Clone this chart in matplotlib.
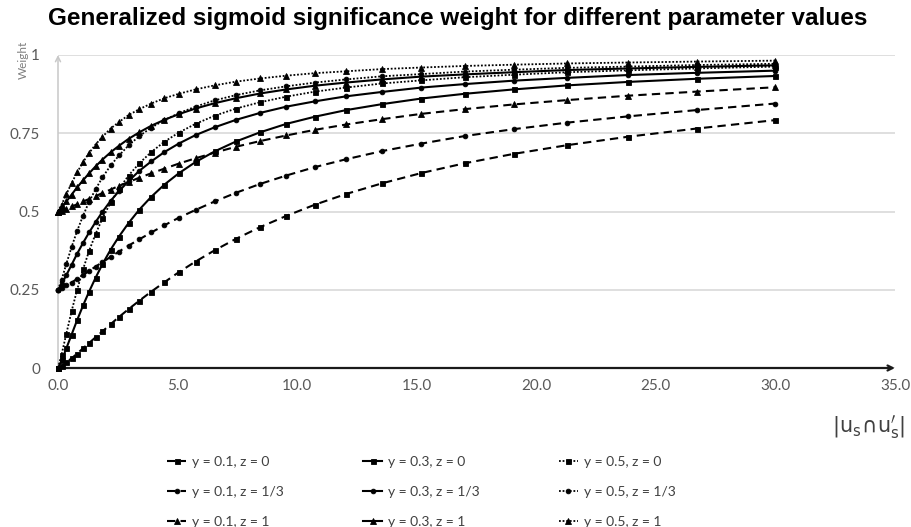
import matplotlib
matplotlib.use("Agg")
import matplotlib.pyplot as plt

# ---- data ----
x_vals = [0, 0.15, 0.35, 0.57, 0.8, 1.05, 1.3, 1.57, 1.86, 2.2, 2.55, 2.95, 3.4, 3.9,
          4.45, 5.05, 5.75, 6.55, 7.45, 8.45, 9.55, 10.75, 12.05, 13.55, 15.2, 17.0,
          19.05, 21.3, 23.85, 26.7, 30.0]

w_y01_z0 = [0, 0.006, 0.018, 0.031, 0.046, 0.063, 0.080, 0.098, 0.117, 0.140, 0.163, 0.188,
            0.215, 0.244, 0.274, 0.306, 0.340, 0.376, 0.413, 0.450, 0.486, 0.522, 0.556,
            0.590, 0.623, 0.654, 0.684, 0.712, 0.739, 0.765, 0.792]
w_y01_z13 = [0.25, 0.255, 0.264, 0.273, 0.285, 0.297, 0.310, 0.324, 0.338, 0.355, 0.372,
             0.391, 0.411, 0.433, 0.456, 0.480, 0.505, 0.532, 0.560, 0.588, 0.615, 0.642,
             0.667, 0.693, 0.717, 0.741, 0.763, 0.784, 0.804, 0.824, 0.845]
w_y01_z1 = [0.5, 0.503, 0.509, 0.516, 0.523, 0.532, 0.540, 0.549, 0.559, 0.570, 0.582, 0.594,
            0.608, 0.622, 0.637, 0.653, 0.670, 0.688, 0.707, 0.725, 0.743, 0.761, 0.778,
            0.795, 0.812, 0.827, 0.842, 0.856, 0.870, 0.883, 0.897]

w_y03_z0 = [0, 0.024, 0.063, 0.107, 0.153, 0.200, 0.244, 0.288, 0.332, 0.378, 0.420, 0.463,
            0.506, 0.547, 0.586, 0.622, 0.658, 0.692, 0.724, 0.753, 0.780, 0.803, 0.824,
            0.843, 0.861, 0.876, 0.890, 0.903, 0.914, 0.924, 0.933]
w_y03_z13 = [0.25, 0.268, 0.297, 0.330, 0.365, 0.400, 0.433, 0.466, 0.499, 0.534, 0.565,
             0.597, 0.630, 0.660, 0.690, 0.717, 0.744, 0.769, 0.793, 0.815, 0.835, 0.852,
             0.868, 0.882, 0.896, 0.907, 0.918, 0.927, 0.936, 0.943, 0.950]
w_y03_z1 = [0.5, 0.512, 0.532, 0.554, 0.577, 0.600, 0.622, 0.644, 0.666, 0.689, 0.710, 0.732,
            0.753, 0.774, 0.793, 0.811, 0.829, 0.846, 0.862, 0.877, 0.890, 0.902, 0.912,
            0.922, 0.931, 0.938, 0.945, 0.952, 0.957, 0.962, 0.967]

w_y05_z0 = [0, 0.043, 0.110, 0.182, 0.250, 0.316, 0.374, 0.428, 0.478, 0.529, 0.572, 0.615,
            0.654, 0.690, 0.723, 0.752, 0.780, 0.806, 0.829, 0.849, 0.867, 0.883, 0.896,
            0.909, 0.919, 0.929, 0.937, 0.945, 0.951, 0.957, 0.963]
w_y05_z13 = [0.25, 0.282, 0.333, 0.387, 0.438, 0.487, 0.531, 0.571, 0.609, 0.647, 0.679,
             0.711, 0.741, 0.768, 0.792, 0.814, 0.835, 0.855, 0.872, 0.887, 0.900, 0.912,
             0.922, 0.932, 0.939, 0.947, 0.953, 0.959, 0.963, 0.968, 0.972]
w_y05_z1 = [0.5, 0.522, 0.555, 0.591, 0.625, 0.658, 0.687, 0.714, 0.739, 0.765, 0.786, 0.808,
            0.827, 0.845, 0.862, 0.876, 0.890, 0.903, 0.915, 0.925, 0.934, 0.942, 0.948,
            0.955, 0.960, 0.965, 0.969, 0.973, 0.976, 0.979, 0.982]

series_labels = ["y = 0.1, z = 0", "y = 0.1, z = 1/3", "y = 0.1, z = 1",
                 "y = 0.3, z = 0", "y = 0.3, z = 1/3", "y = 0.3, z = 1",
                 "y = 0.5, z = 0", "y = 0.5, z = 1/3", "y = 0.5, z = 1"]
series_values = [w_y01_z0, w_y01_z13, w_y01_z1,
                 w_y03_z0, w_y03_z13, w_y03_z1,
                 w_y05_z0, w_y05_z13, w_y05_z1]

y_ticks = [0, 0.25, 0.5, 0.75, 1]
y_tick_labels = ["0", "0.25", "0.5", "0.75", "1"]
x_ticks = [0, 5, 10, 15, 20, 25, 30, 35]
x_tick_labels = ["0.0", "5.0", "10.0", "15.0", "20.0", "25.0", "30.0", "35.0"]

# ---- styles ----
line_styles = {0.1: (0, (4, 2.5)), 0.3: "-", 0.5: (0, (1, 1))}
line_widths = {0.1: 1.5, 0.3: 1.5, 0.5: 1.3}
markers = ["s", "o", "^"]
marker_sizes = [3.6, 3.4, 4.2]
ys = [0.1, 0.3, 0.5]

plt.rcParams["font.family"] = ["Lato", "DejaVu Sans"]

W, H = 912, 527
fig = plt.figure(figsize=(W / 100, H / 100), dpi=100)
ax = fig.add_axes([58 / W, 1 - 368 / H, (895 - 58) / W, (368 - 55) / H])

ax.set_xlim(0, 35)
ax.set_ylim(0, 1)
ax.set_yticks(y_ticks)
ax.set_yticklabels(y_tick_labels)
ax.set_xticks(x_ticks)
ax.set_xticklabels(x_tick_labels)
ax.tick_params(axis="both", length=0, labelsize=11, labelcolor="#595959")
ax.tick_params(axis="y", pad=13)
ax.tick_params(axis="x", pad=8)
for s in ax.spines.values():
    s.set_visible(False)
ax.grid(axis="y", color="#d9d9d9", linewidth=1.2)
ax.set_axisbelow(True)

# axis arrows
ax.annotate("", xy=(0, 1.0), xytext=(0, 0), xycoords="axes fraction",
            arrowprops=dict(arrowstyle="->", color="#c8c8c8", lw=1.1,
                            shrinkA=0, shrinkB=0, mutation_scale=9))
ax.annotate("", xy=(1.0, 0), xytext=(0, 0), xycoords="axes fraction",
            arrowprops=dict(arrowstyle="->", color="#1a1a1a", lw=1.6,
                            shrinkA=0, shrinkB=0, mutation_scale=9))

handles = []
k = 0
for yi in ys:
    for zi in range(3):
        ln, = ax.plot(x_vals, series_values[k], color="black",
                      linestyle=line_styles[yi], linewidth=line_widths[yi],
                      marker=markers[zi], markersize=marker_sizes[zi],
                      markeredgewidth=0.6, label=series_labels[k], clip_on=False, zorder=3)
        handles.append(ln)
        k += 1

fig.text(458 / W, 1 - 19 / H,
         "Generalized sigmoid significance weight for different parameter values",
         ha="center", va="center", fontsize=17.5, fontweight="bold",
         family=["Liberation Sans", "DejaVu Sans"])

fig.text(23 / W, 1 - 60 / H, "Weight", rotation=90, ha="center", va="center",
         fontsize=8.5, color="#7f7f7f")

fig.text(905 / W, 1 - 427 / H,
         r"$|\mathrm{u}_\mathrm{s}\!\cap\!\mathrm{u}^{\prime}_\mathrm{s}|$",
         ha="right", va="center", fontsize=15, color="#404040")

leg = fig.legend(handles=handles, labels=series_labels, ncol=3, loc="upper left",
                 bbox_to_anchor=(160 / W, 1 - 449 / H), frameon=False, fontsize=10,
                 handlelength=1.4, handletextpad=0.4, columnspacing=5.7,
                 labelspacing=1.3, borderpad=0)
for t in leg.get_texts():
    t.set_color("#404040")

fig.savefig("out.png", dpi=100)
